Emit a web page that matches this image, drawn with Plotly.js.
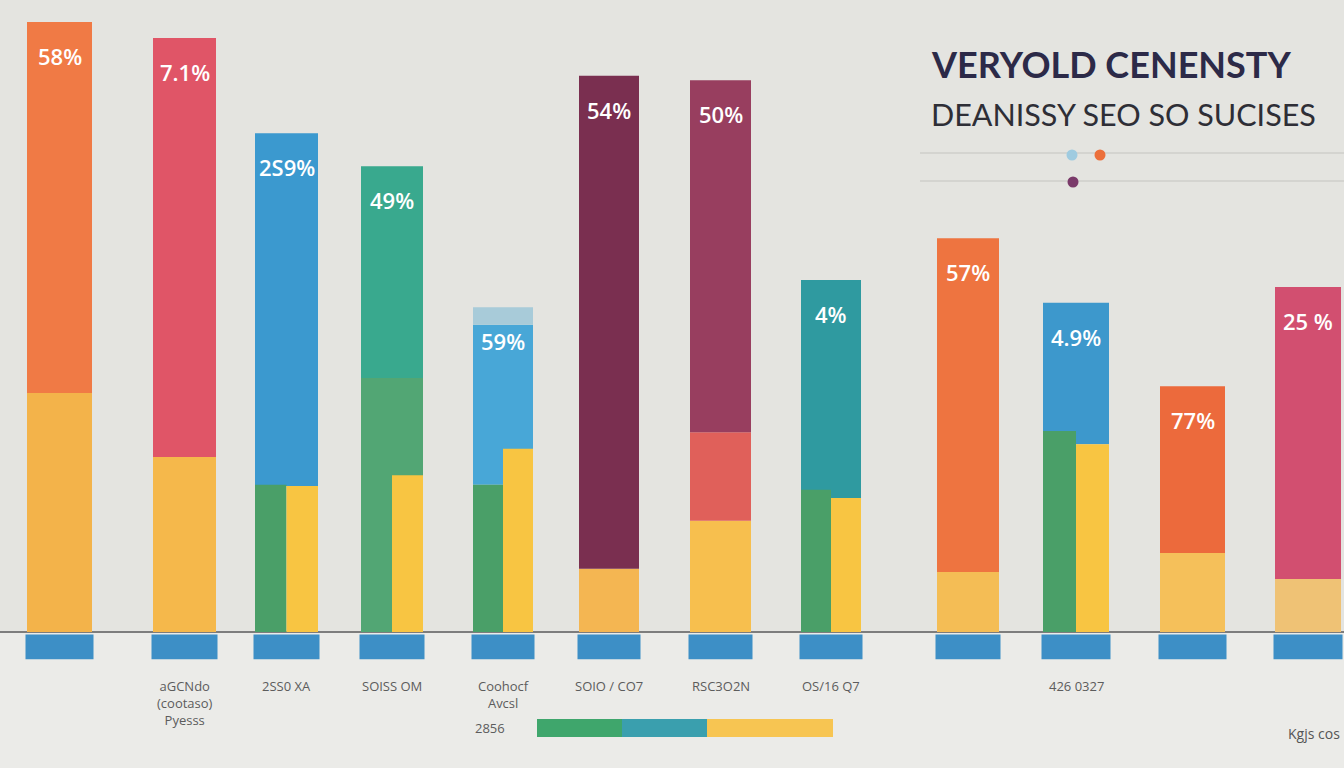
<!DOCTYPE html>
<html><head><meta charset="utf-8">
<script src="https://cdn.plot.ly/plotly-3.0.1.min.js"></script>
<style>html,body{margin:0;padding:0;background:#e6e6e2;}#chart{width:1344px;height:768px;}</style>
</head><body><div id="chart"></div>
<script>
// ---- data (values in % of chart height) ----
const categories = ["", "aGCNdo<br>(cootaso)<br>Pyesss", "2SS0 XA", "SOISS OM", "Coohocf<br>Avcsl", "SOIO / CO7", "RSC3O2N", "OS/16 Q7", "", "426 0327", "", ""];
const pctLabels = ["58%", "7.1%", "2S9%", "49%", "59%", "54%", "50%", "4%", "57%", "4.9%", "77%", "25 %"];
const yellowBase = [37.8, 27.7, 0, 0, 0, 10.0, 17.6, 0, 9.5, 0, 12.5, 8.4];
const greenBase  = [0, 0, 0, 40.2, 0, 0, 0, 0, 0, 0, 0, 0];
const coralMid   = [0, 0, 0, 0, 0, 0, 14.0, 0, 0, 0, 0, 0];
const greenHalf  = [0, 0, 23.3, 0, 23.3, 0, 0, 22.5, 0, 31.8, 0, 0];
const yellowHalf = [0, 0, 23.1, 24.8, 29.0, 0, 0, 21.2, 0, 29.7, 0, 0];
const topSeg     = [58.7, 66.3, 55.8, 33.5, 25.3, 78.0, 55.7, 34.5, 52.8, 22.4, 26.4, 46.2];
const capSeg     = [0, 0, 0, 0, 2.8, 0, 0, 0, 0, 0, 0, 0];
const tabValues  = [3.9, 3.9, 3.9, 3.9, 3.9, 3.9, 3.9, 3.9, 3.9, 3.9, 3.9, 3.9];
const scaleLabel = "2856";
const scaleSegs  = [85, 85, 126];
const titleLine1 = "VERYOLD CENENSTY";
const titleLine2 = "DEANISSY SEO SO SUCISES";
const cornerNote = "Kgjs cos";

// ---- layout / style config ----
const colPos   = [59.5, 184.5, 286.5, 392, 503, 609, 720.5, 831, 968, 1076, 1192.5, 1308];
const colWidth = [65, 63, 63, 62, 60, 60, 61, 60, 62, 66, 65, 66];
const topColors = ["#f07a45", "#e05567", "#3b99cf", "#39a98e", "#48a7d7", "#7a2f50", "#983e5f", "#2f9aa0", "#ee7440", "#3d98cc", "#ec6a3c", "#d24f70"];
const yellowColors = ["#f3b34a", "#f5b84b", "#f5b84b", "#f5b84b", "#f5b84b", "#f4b652", "#f7bf4e", "#f5b84b", "#f4bd55", "#f5b84b", "#f5c05a", "#efc275"];
const PX = 6.32;           // pixels per unit
const BASE_PX = 632;       // baseline pixel row
const H = 768, W = 1344;

const nz = a => a.map(v => v === 0 ? null : v);
const lowerTop = yellowBase.map((v, i) => v + greenBase[i] + coralMid[i] +
  ((greenHalf[i] && yellowHalf[i]) ? Math.min(greenHalf[i], yellowHalf[i]) : 0));
const totals = lowerTop.map((v, i) => v + topSeg[i] + capSeg[i]);

const common = {type: 'bar', hoverinfo: 'skip', showlegend: false, marker: {line: {width: 0}}};
const traces = [];
traces.push(Object.assign({}, common, {x: colPos, y: tabValues.map(v => -v), base: colPos.map(() => -0.4),
  width: colWidth.map(w => w + 3), marker: {color: '#3d8fc6', line: {width: 0}}}));
traces.push(Object.assign({}, common, {x: colPos, y: nz(yellowBase), width: colWidth, marker: {color: yellowColors, line: {width: 0}}}));
traces.push(Object.assign({}, common, {x: colPos, y: nz(greenBase), width: colWidth, marker: {color: '#52a674', line: {width: 0}}}));
traces.push(Object.assign({}, common, {x: colPos, y: nz(coralMid), base: yellowBase, width: colWidth, marker: {color: '#e0605a', line: {width: 0}}}));
traces.push(Object.assign({}, common, {x: colPos, y: topSeg, base: lowerTop, width: colWidth, marker: {color: topColors, line: {width: 0}}}));
traces.push(Object.assign({}, common, {x: colPos, y: nz(capSeg), base: lowerTop.map((v, i) => v + topSeg[i]), width: colWidth, marker: {color: '#a8cbd9', line: {width: 0}}}));
traces.push(Object.assign({}, common, {x: colPos.map((p, i) => p - colWidth[i] / 4), y: nz(greenHalf), width: colWidth.map(w => w / 2), marker: {color: '#4a9f68', line: {width: 0}}}));
traces.push(Object.assign({}, common, {x: colPos.map((p, i) => p + colWidth[i] / 4), y: nz(yellowHalf), width: colWidth.map(w => w / 2), marker: {color: '#f8c542', line: {width: 0}}}));
// horizontal scale bar
const scaleColors = ['#3fa66c', '#3a9fae', '#f7c552'];
const scaleStart = 537, scaleRow = (BASE_PX - 728) / PX;
let acc = scaleStart;
scaleSegs.forEach((s, i) => {
  traces.push(Object.assign({}, common, {orientation: 'h', y: [scaleRow], x: [s], base: [acc], width: [18 / PX],
    marker: {color: scaleColors[i], line: {width: 0}}}));
  acc += s;
});

const annotations = [];
pctLabels.forEach((t, i) => annotations.push({x: colPos[i], y: totals[i], xref: 'x', yref: 'y', yshift: -34, yanchor: 'middle',
  text: t, showarrow: false, font: {family: 'Open Sans', size: 22, color: '#ffffff', weight: 600}}));
categories.forEach((t, i) => { if (t) annotations.push({x: colPos[i], y: (BASE_PX - 675) / PX, xref: 'x', yref: 'y', yanchor: 'top',
  text: t, showarrow: false, font: {family: 'Open Sans', size: 13, color: '#5c5c5c'}}); });
annotations.push({x: 490, y: scaleRow, xref: 'x', yref: 'y', text: scaleLabel, showarrow: false, font: {family: 'Open Sans', size: 13, color: '#5c5c5c'}});
annotations.push({x: 1286, y: (BASE_PX - 733) / PX, xref: 'x', yref: 'y', xanchor: 'left', text: cornerNote, showarrow: false, font: {family: 'Open Sans', size: 14, color: '#555'}});
annotations.push({x: 929, y: (BASE_PX - 64) / PX, xref: 'x', yref: 'y', xanchor: 'left', yanchor: 'middle', text: '<b>' + titleLine1 + '</b>', showarrow: false, font: {family: 'Lato', size: 36, color: '#2c2a48'}});
annotations.push({x: 929, y: (BASE_PX - 114) / PX, xref: 'x', yref: 'y', xanchor: 'left', yanchor: 'middle', text: titleLine2, showarrow: false, font: {family: 'Lato', size: 30.5, color: '#2e2e36'}});

const yv = px => (BASE_PX - px) / PX;
const shapes = [
  {type: 'rect', xref: 'paper', yref: 'y', x0: 0, x1: 1, y0: yv(H), y1: 0, fillcolor: '#ebebe8', line: {width: 0}, layer: 'below'},
  {type: 'line', xref: 'x', yref: 'y', x0: 920, x1: W, y0: yv(153), y1: yv(153), line: {color: '#cfcfcb', width: 1.5}, layer: 'below'},
  {type: 'line', xref: 'x', yref: 'y', x0: 920, x1: W, y0: yv(181), y1: yv(181), line: {color: '#cfcfcb', width: 1.5}, layer: 'below'},
];
const dotX = [1072, 1100, 1073], dotY = [155, 155, 182], dotC = ['#9fcbe0', '#ec6f3a', '#7a3a6a'];
dotX.forEach((x, i) => shapes.push({type: 'circle', xref: 'x', yref: 'y', xsizemode: 'pixel', ysizemode: 'pixel',
  xanchor: x, yanchor: yv(dotY[i]), x0: -5.5, x1: 5.5, y0: -5.5, y1: 5.5, fillcolor: dotC[i], line: {width: 0}}));

const layout = {
  width: W, height: H, autosize: false, margin: {l: 0, r: 0, t: 0, b: 0, pad: 0},
  paper_bgcolor: '#e4e4e0', plot_bgcolor: 'rgba(0,0,0,0)', barmode: 'overlay',
  xaxis: {range: [0, W], showgrid: false, zeroline: false, showticklabels: false, fixedrange: true},
  yaxis: {range: [yv(H), yv(0)], showgrid: false, zeroline: true, zerolinecolor: '#7d7d7d', zerolinewidth: 2, showticklabels: false, fixedrange: true},
  annotations, shapes
};
Plotly.newPlot('chart', traces, layout, {displayModeBar: false, staticPlot: true});
</script></body></html>
